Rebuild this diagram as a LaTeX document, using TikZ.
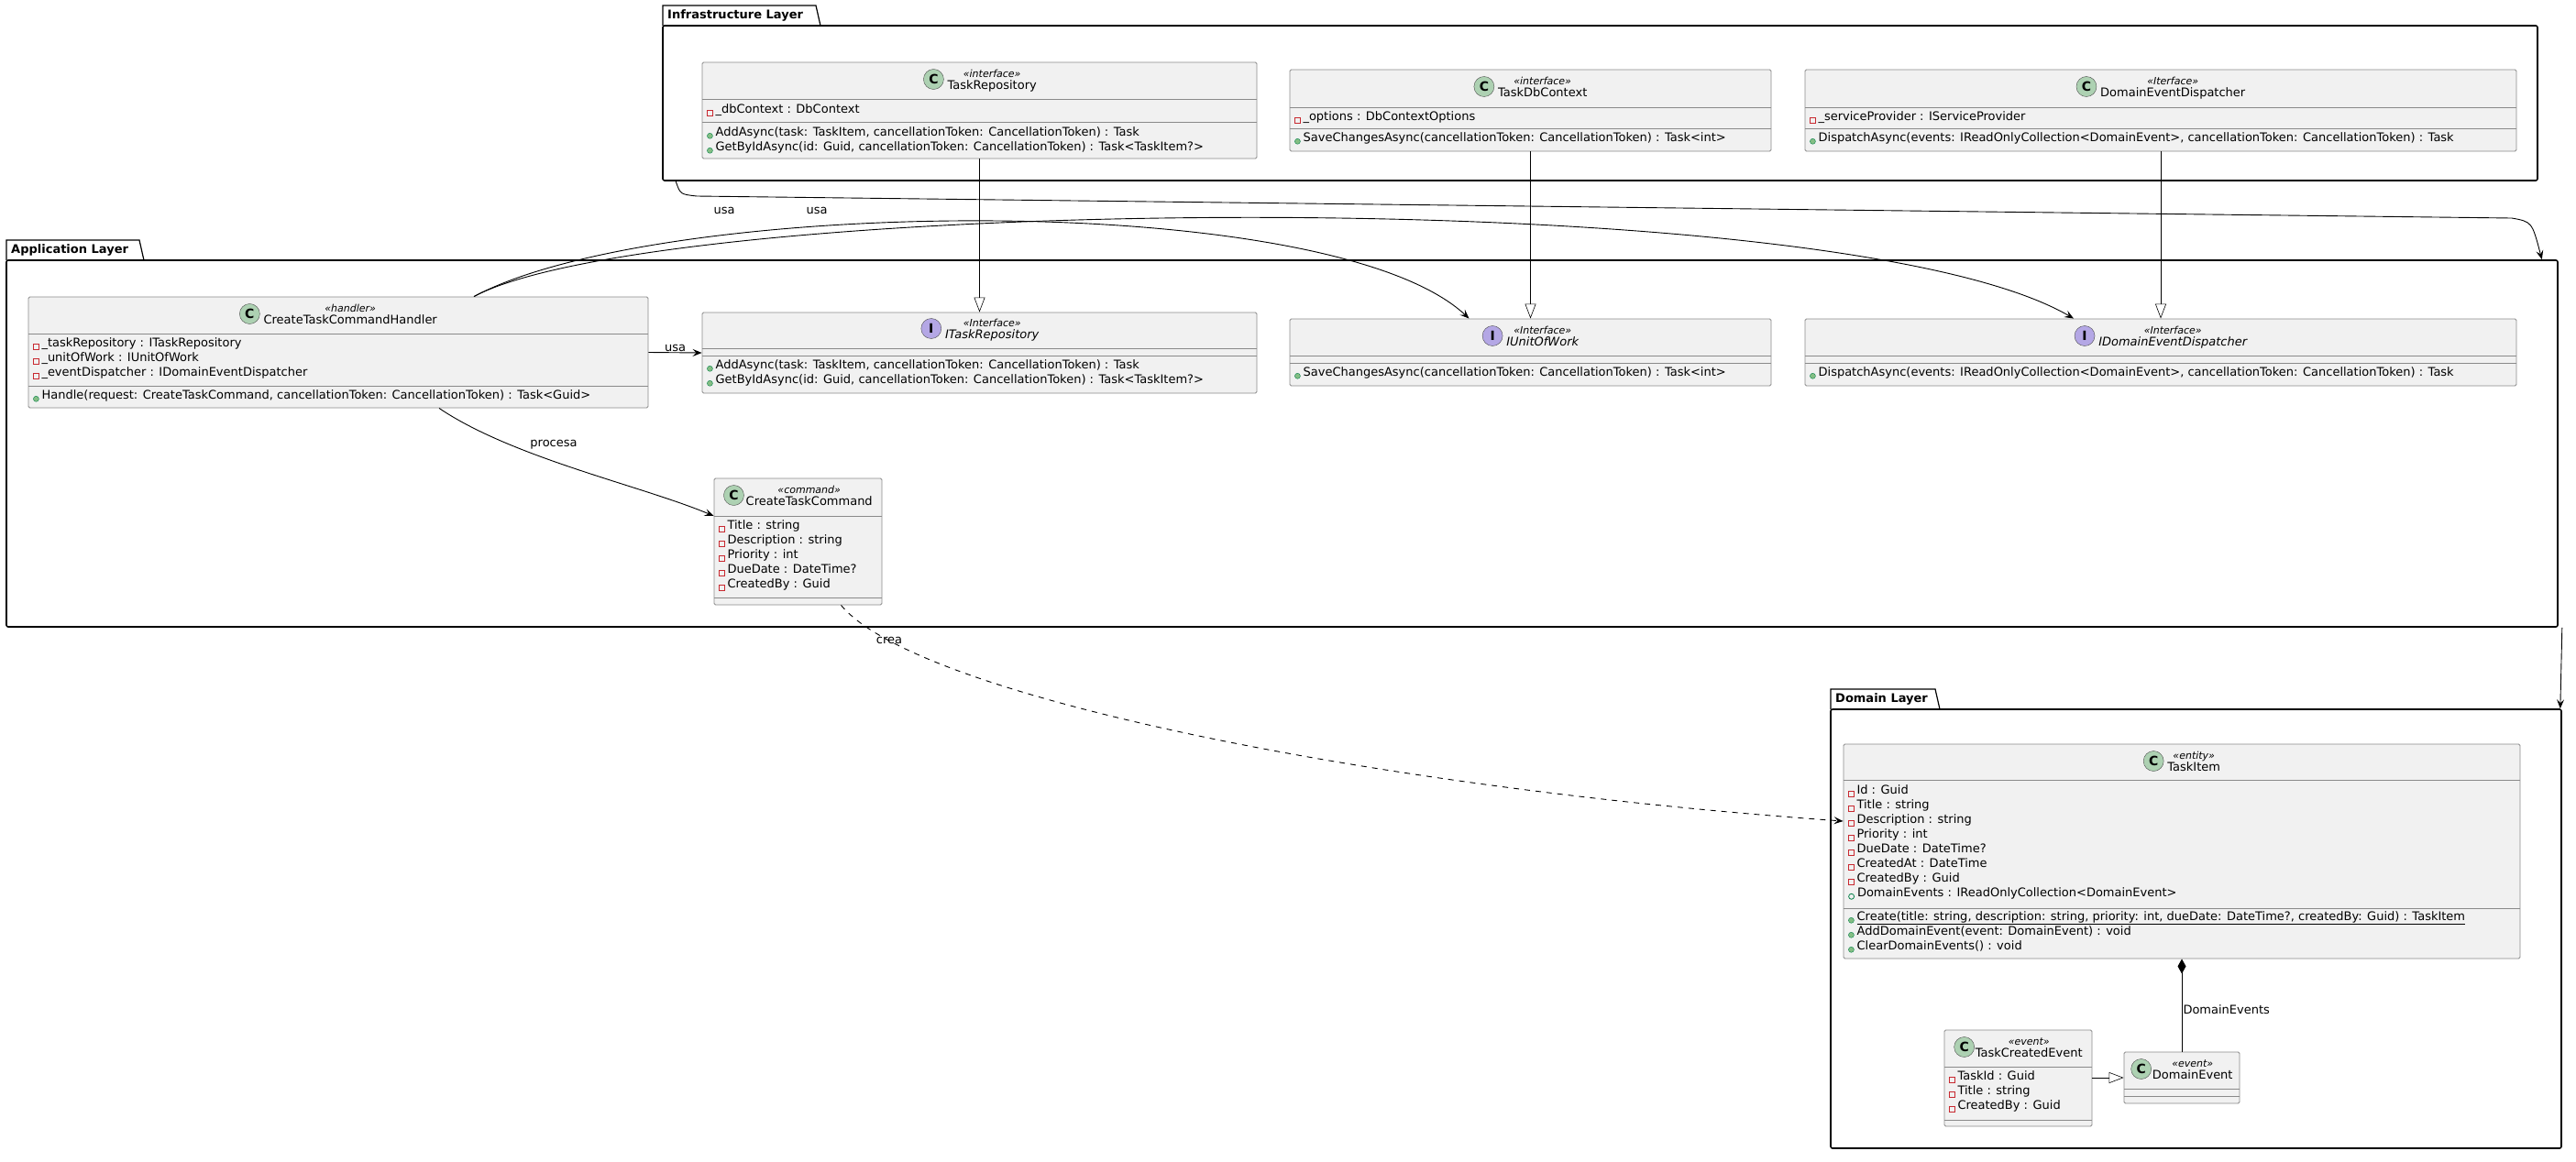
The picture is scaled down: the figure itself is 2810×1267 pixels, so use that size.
\documentclass[tikz,border=0pt]{standalone}
\usepackage{fontspec}
\setmainfont{DejaVu Sans}
\usetikzlibrary{positioning,arrows.meta}

\definecolor{umlfill}{HTML}{F1F1F1}
\definecolor{umlborder}{HTML}{8A8A8A}
\definecolor{cgreen}{HTML}{ADD1B2}
\definecolor{ipurple}{HTML}{B4A7E5}
\definecolor{privred}{HTML}{C82930}
\definecolor{pubgreen}{HTML}{84BE84}
\definecolor{pubdark}{HTML}{038048}

% visibility marks
\newcommand{\priv}{\tikz[baseline=-1pt]\draw[privred,line width=0.8pt] (0,-4pt) rectangle (5.5pt,1.5pt);\hspace{3pt}}
\newcommand{\pubm}{\tikz[baseline=-1pt]\fill[pubgreen,draw=pubdark,line width=0.4pt] (3pt,-1.2pt) circle (3pt);\hspace{3pt}}
\newcommand{\pubf}{\tikz[baseline=-1pt]\draw[pubdark,line width=0.8pt] (3pt,-1.2pt) circle (3pt);\hspace{3pt}}
\newcommand{\umlicon}[2]{\tikz[baseline=-4.5pt]\node[circle,draw=black!70,fill=#2,inner sep=0pt,minimum size=22pt,font=\bfseries\fontsize{14}{14}\selectfont]{#1};}
\newcommand{\stereo}[1]{{\itshape\fontsize{11}{12}\selectfont «#1»}}

% box with two dividers: name, x1, y1, x2, y2, divider1, divider2
\newcommand{\classframe}[7]{%
  \node[umlbox, minimum width={(#4-#2)*1pt}, minimum height={(#5-#3)*1pt}] (#1) at ({(#2+#4)/2},{(#3+#5)/2}) {};
  \draw[umlbox] (#2,#6) -- (#4,#6);
  \draw[umlbox] (#2,#7) -- (#4,#7);}

\tikzset{
  umlbox/.style={draw=umlborder, fill=umlfill, line width=0.9pt, rounded corners=1.5pt, inner sep=0pt},
  head/.style={inner sep=0pt, font=\fontsize{13}{15}\selectfont, align=center},
  members/.style={anchor=north west, inner sep=0pt, align=left, font=\fontsize{13}{16}\selectfont},
  pkg/.style={draw=black, line width=1.6pt, rounded corners=2pt},
  pkglabel/.style={font=\bfseries\fontsize{13}{15}\selectfont, anchor=west, inner sep=0pt},
  dep/.style={line width=0.9pt, -{Stealth[length=10pt,width=8pt,inset=4pt]}},
  realize/.style={line width=0.6pt, -{Triangle[open,length=16pt,width=12pt]}},
  lbl/.style={font=\fontsize{13}{15}\selectfont, inner sep=1pt}
}

\begin{document}
\begin{tikzpicture}[x=1pt, y=-1pt]
\useasboundingbox (0,0) rectangle (2810,1267);

  % Packages
  \draw[line width=1.2pt] (723,28) -- (723,6) -- (890,6) -- (895,28);
  \node[pkglabel] at (728,17) {Infrastructure Layer};
  \node[pkg, minimum width=2045pt, minimum height=169pt] (infra) at (1745.5,112.5) {};
  \draw[line width=1.2pt] (7,284) -- (7,262) -- (152,262) -- (157,284);
  \node[pkglabel] at (12,273) {Application Layer};
  \node[pkg, minimum width=2783pt, minimum height=400pt] (app) at (1398.5,484) {};
  \draw[line width=1.2pt] (1997,774) -- (1997,752) -- (2111,752) -- (2116,774);
  \node[pkglabel] at (2002,763) {Domain Layer};
  \node[pkg, minimum width=797pt, minimum height=479pt] (domain) at (2395.5,1013.5) {};

  % Infrastructure classes
  \classframe{taskrepo}{766}{68}{1371}{173}{108}{133}
  \node[head] at (1069,88) {\umlicon{C}{cgreen}\hspace{4pt}\begin{tabular}{@{}c@{}}\stereo{interface}\\[-2pt] TaskRepository\end{tabular}};
  \node[members] at (771,113) {\priv\_dbContext : DbContext};
  \node[members] at (771,138) {\pubm AddAsync(task: TaskItem, cancellationToken: CancellationToken) : Task\\ \pubm GetByIdAsync(id: Guid, cancellationToken: CancellationToken) : Task<TaskItem?>};

  \classframe{dbcontext}{1407}{76}{1932}{165}{117}{140}
  \node[head] at (1669.5,96) {\umlicon{C}{cgreen}\hspace{4pt}\begin{tabular}{@{}c@{}}\stereo{interface}\\[-2pt] TaskDbContext\end{tabular}};
  \node[members] at (1412,121) {\priv\_options : DbContextOptions};
  \node[members] at (1412,144) {\pubm SaveChangesAsync(cancellationToken: CancellationToken) : Task<int>};

  \classframe{dispatcher}{1969}{76}{2745}{165}{117}{140}
  \node[head] at (2357,96) {\umlicon{C}{cgreen}\hspace{4pt}\begin{tabular}{@{}c@{}}\stereo{Iterface}\\[-2pt] DomainEventDispatcher\end{tabular}};
  \node[members] at (1974,121) {\priv\_serviceProvider : IServiceProvider};
  \node[members] at (1974,144) {\pubm DispatchAsync(events: IReadOnlyCollection<DomainEvent>, cancellationToken: CancellationToken) : Task};

  % Application classes
  \classframe{handler}{31}{324}{707}{445}{364}{421}
  \node[head] at (369,344) {\umlicon{C}{cgreen}\hspace{4pt}\begin{tabular}{@{}c@{}}\stereo{handler}\\[-2pt] CreateTaskCommandHandler\end{tabular}};
  \node[members] at (36,368) {\priv\_taskRepository : ITaskRepository\\ \priv\_unitOfWork : IUnitOfWork\\ \priv\_eventDispatcher : IDomainEventDispatcher};
  \node[members] at (36,425) {\pubm Handle(request: CreateTaskCommand, cancellationToken: CancellationToken) : Task<Guid>};

  \classframe{itaskrepo}{766}{341}{1371}{429}{380}{388}
  \node[head] at (1069,360) {\umlicon{I}{ipurple}\hspace{4pt}\begin{tabular}{@{}c@{}}\stereo{Interface}\\[-2pt] \itshape ITaskRepository\end{tabular}};
  \node[members] at (771,392) {\pubm AddAsync(task: TaskItem, cancellationToken: CancellationToken) : Task\\ \pubm GetByIdAsync(id: Guid, cancellationToken: CancellationToken) : Task<TaskItem?>};

  \classframe{iunitofwork}{1407}{348}{1932}{421}{388}{396}
  \node[head] at (1669.5,368) {\umlicon{I}{ipurple}\hspace{4pt}\begin{tabular}{@{}c@{}}\stereo{Interface}\\[-2pt] \itshape IUnitOfWork\end{tabular}};
  \node[members] at (1412,400) {\pubm SaveChangesAsync(cancellationToken: CancellationToken) : Task<int>};

  \classframe{idispatcher}{1969}{348}{2745}{421}{388}{396}
  \node[head] at (2357,368) {\umlicon{I}{ipurple}\hspace{4pt}\begin{tabular}{@{}c@{}}\stereo{Interface}\\[-2pt] \itshape IDomainEventDispatcher\end{tabular}};
  \node[members] at (1974,400) {\pubm DispatchAsync(events: IReadOnlyCollection<DomainEvent>, cancellationToken: CancellationToken) : Task};

  \classframe{command}{779}{522}{962}{660}{563}{652}
  \node[head] at (870.5,542) {\umlicon{C}{cgreen}\hspace{2pt}\begin{tabular}{@{}c@{}}\stereo{command}\\[-2pt] CreateTaskCommand\end{tabular}};
  \node[members] at (784,567) {\priv Title : string\\ \priv Description : string\\ \priv Priority : int\\ \priv DueDate : DateTime?\\ \priv CreatedBy : Guid};

  % Domain classes
  \classframe{taskitem}{2011}{812}{2749}{1046}{851}{991}
  \node[head] at (2380,832) {\umlicon{C}{cgreen}\hspace{4pt}\begin{tabular}{@{}c@{}}\stereo{entity}\\[-2pt] TaskItem\end{tabular}};
  \node[members] at (2016,856) {\priv Id : Guid\\ \priv Title : string\\ \priv Description : string\\ \priv Priority : int\\ \priv DueDate : DateTime?\\ \priv CreatedAt : DateTime\\ \priv CreatedBy : Guid\\ \pubf DomainEvents : IReadOnlyCollection<DomainEvent>};
  \node[members] at (2016,994) {\pubm \underline{Create(title: string, description: string, priority: int, dueDate: DateTime?, createdBy: Guid) : TaskItem}\\ \pubm AddDomainEvent(event: DomainEvent) : void\\ \pubm ClearDomainEvents() : void};

  \classframe{taskcreated}{2121}{1124}{2282}{1229}{1164}{1222}
  \node[head] at (2201.5,1144) {\umlicon{C}{cgreen}\hspace{1pt}\begin{tabular}{@{}c@{}}\stereo{event}\\[-2pt] TaskCreatedEvent\end{tabular}};
  \node[members] at (2126,1168) {\priv TaskId : Guid\\ \priv Title : string\\ \priv CreatedBy : Guid};

  \classframe{domainevent}{2317}{1148}{2443}{1204}{1188}{1196}
  \node[head] at (2380,1168) {\umlicon{C}{cgreen}\hspace{1pt}\begin{tabular}{@{}c@{}}\stereo{event}\\[-2pt] DomainEvent\end{tabular}};

  % Realizations
  \draw[realize] (taskrepo.south) -- (itaskrepo.north);
  \draw[realize] (dbcontext.south) -- (iunitofwork.north);
  \draw[realize] (dispatcher.south) -- (idispatcher.north);
  \draw[realize] (taskcreated.east |- 0,1176) -- (domainevent.west |- 0,1176);

  % Dependencies
  \draw[dep] (handler.east) -- node[lbl, above] {usa} (itaskrepo.west);
  \draw[dep] ([xshift=148pt]handler.north) .. controls (720,215) and (1450,205) .. ([xshift=-67pt]iunitofwork.north);
  \draw[dep] ([xshift=148pt]handler.north) .. controls (720,215) and (2000,195) .. ([xshift=-95pt]idispatcher.north);
  \node[lbl] (usa1) at (790,230) {usa};
  \node[lbl] (usa2) at (891,230) {usa};
  \draw[dep] ([xshift=110pt]handler.south) .. controls (560,500) and (700,530) .. ([yshift=28pt]command.west);
  \node[lbl] (procesa) at (604,485) {procesa};
  \draw[dep, dashed, dash pattern=on 6pt off 6pt] ([xshift=47pt]command.south) .. controls (1000,760) and (1500,860) .. (taskitem.west |- 0,896) node[lbl, pos=0.13] {crea};
  \draw[line width=1pt, -{Diamond[length=16pt,width=9pt]}] (domainevent.north) -- node[lbl, right, pos=0.45] {DomainEvents} (taskitem.south);

  % Package dependencies
  \draw[dep] ([xshift=15pt]infra.south west) .. controls (742,212) .. (760,214) -- (2740,238) .. controls (2762,242) .. ([xshift=-18pt]app.north east);
  \draw[dep] ([xshift=4pt]app.south east) -- ([xshift=-2pt]domain.north east);
\end{tikzpicture}
\end{document}
